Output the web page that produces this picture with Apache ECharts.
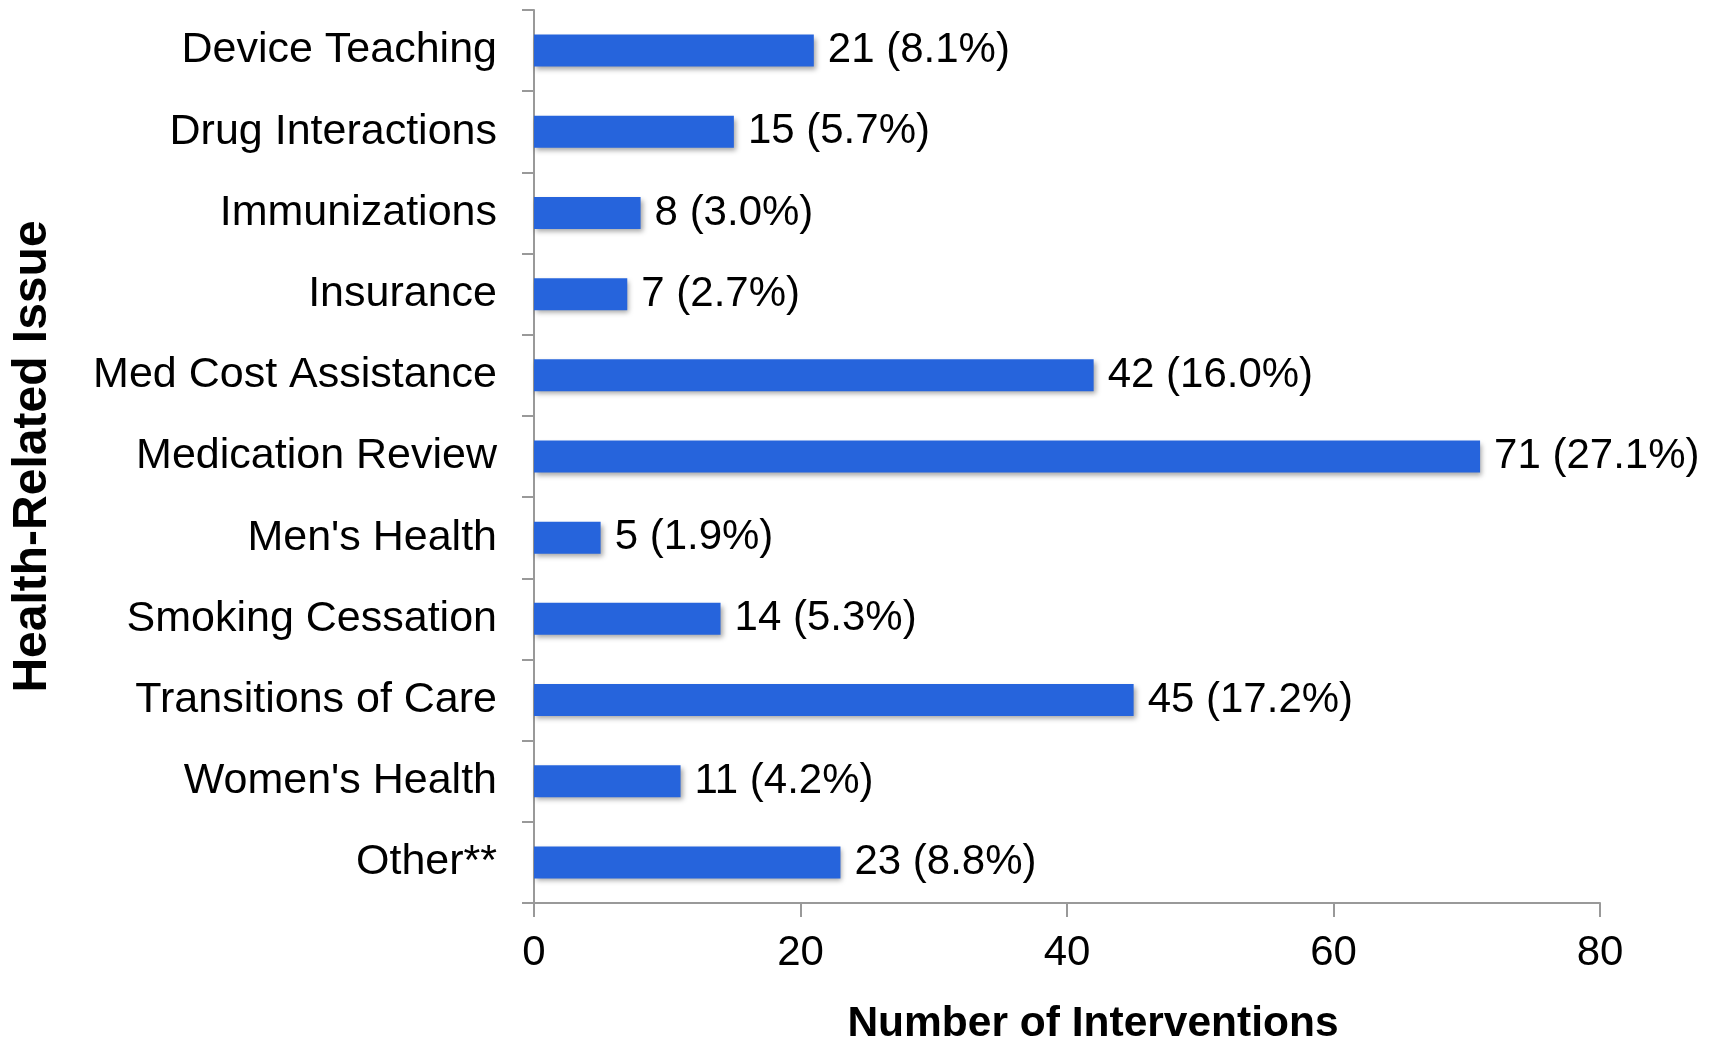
<!DOCTYPE html>
<html>
<head>
    <meta charset="UTF-8">
    <script type="text/javascript" src="https://cdn.jsdelivr.net/npm/echarts@6/dist/echarts.min.js"></script>
</head>
<style>
    html, body { margin: 0; padding: 0; background: #fff; }
</style>
<body>
<div id="main" style="width: 1719px;height:1042px;"></div>
<script>
    // categories, top to bottom
    var issues = ['Device Teaching', 'Drug Interactions', 'Immunizations', 'Insurance',
        'Med Cost Assistance', 'Medication Review', "Men's Health", 'Smoking Cessation',
        'Transitions of Care', "Women's Health", 'Other**']
    var counts = [21, 15, 8, 7, 42, 71, 5, 14, 45, 11, 23]
    var percents = [8.1, 5.7, 3.0, 2.7, 16.0, 27.1, 1.9, 5.3, 17.2, 4.2, 8.8]
    var xTicks = [0, 20, 40, 60, 80]

    var chart = echarts.init(document.getElementById('main'));
    var font = 'Liberation Sans, Arial, sans-serif'

    var option = {
        animation: false,
        textStyle: {fontFamily: font},
        grid: {left: 534, right: 119, top: 10, bottom: 139, outerBoundsMode: 'none', containLabel: false},
        xAxis: {
            type: 'value',
            min: xTicks[0],
            max: xTicks[xTicks.length - 1],
            interval: 20,
            name: 'Number of Interventions',
            nameLocation: 'middle',
            nameGap: 100,
            nameTextStyle: {fontSize: 42.5, fontWeight: 'bold', color: '#000', padding: [0, 0, 0, 52]},
            axisLine: {show: true, lineStyle: {color: '#999', width: 2}},
            axisTick: {show: true, length: 14, lineStyle: {color: '#999', width: 2}},
            axisLabel: {fontSize: 42, color: '#000', margin: 29},
            splitLine: {show: false}
        },
        yAxis: {
            type: 'category',
            data: issues,
            inverse: true,
            name: 'Health-Related Issue',
            nameLocation: 'middle',
            nameGap: 477,
            nameTextStyle: {fontSize: 48, fontWeight: 'bold', color: '#000'},
            axisLine: {show: true, lineStyle: {color: '#999', width: 2}},
            axisTick: {show: true, length: 12, lineStyle: {color: '#999', width: 2}},
            axisLabel: {fontSize: 43, color: '#000', margin: 37}
        },
        series: [{
            type: 'bar',
            data: counts,
            barWidth: 32,
            itemStyle: {
                color: '#2664DC',
                shadowColor: 'rgba(0,0,0,0.35)',
                shadowBlur: 5,
                shadowOffsetX: 2,
                shadowOffsetY: 3
            },
            label: {
                show: true,
                position: 'right',
                distance: 14,
                fontSize: 42,
                color: '#000',
                formatter: function (p) {
                    return counts[p.dataIndex] + ' (' + percents[p.dataIndex].toFixed(1) + '%)'
                }
            }
        }]
    };
    chart.setOption(option);
</script>
</body>
</html>
